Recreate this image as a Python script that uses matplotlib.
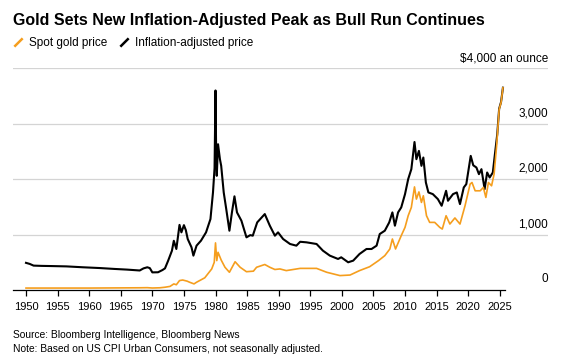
import numpy as np
import matplotlib
matplotlib.use("Agg")
import matplotlib.pyplot as plt
from matplotlib.lines import Line2D
import matplotlib.transforms as mtransforms

plt.rcParams['font.family'] = ['Liberation Sans', 'DejaVu Sans']

# Gold price, nominal and inflation-adjusted ($/oz)
real_years = [1950.0, 1950.6, 1951.2, 1952.5, 1954.0, 1956.4, 1959.0, 1961.7, 1964.0, 1966.0,
              1968.0, 1968.6, 1969.2, 1969.6, 1970.0, 1970.9, 1971.6, 1972.0, 1972.5, 1973.1,
              1973.4, 1973.8, 1974.3, 1974.6, 1975.0, 1975.3, 1975.6, 1976.2, 1976.5, 1977.0,
              1977.7, 1978.5, 1979.2, 1979.6, 1979.85, 1980.0, 1980.1, 1980.2, 1980.4, 1980.7,
              1980.9, 1981.3, 1981.7, 1982.2, 1982.6, 1983.0, 1983.4, 1984.1, 1984.9, 1985.5,
              1985.9, 1986.6, 1987.8, 1988.6, 1989.4, 1989.9, 1990.7, 1991.8, 1992.8, 1993.4,
              1994.4, 1996.0, 1997.0, 1998.1, 1999.4, 1999.9, 2001.0, 2001.8, 2002.8, 2003.9,
              2004.7, 2005.5, 2006.0, 2006.8, 2007.5, 2008.0, 2008.4, 2008.9, 2009.4, 2010.0,
              2010.5, 2011.0, 2011.5, 2011.8, 2012.2, 2012.6, 2012.9, 2013.3, 2013.7, 2014.4,
              2015.2, 2015.8, 2016.5, 2016.8, 2017.6, 2018.2, 2018.7, 2019.3, 2019.7, 2020.4,
              2020.8, 2021.3, 2021.7, 2022.1, 2022.6, 2023.0, 2023.4, 2023.9, 2024.2, 2024.6,
              2024.9, 2025.2, 2025.5]
real_price = [490, 470, 440, 435, 432, 426, 410, 396, 380, 368,
              352, 390, 410, 395, 318, 320, 360, 390, 528, 708,
              888, 740, 1175, 1040, 1170, 1080, 920, 770, 620, 800,
              890, 1040, 1280, 1760, 2200, 3600, 2500, 2060, 2630, 2360,
              2240, 1760, 1460, 1070, 1400, 1690, 1400, 1250, 950, 990,
              980, 1220, 1370, 1160, 980, 1040, 920, 830, 800, 870,
              860, 830, 710, 620, 560, 590, 500, 530, 650, 740,
              740, 800, 1010, 1070, 1220, 1400, 1160, 1400, 1490, 1730,
              2000, 2180, 2670, 2360, 2510, 2240, 2390, 1940, 1760, 1730,
              1640, 1520, 1790, 1610, 1730, 1760, 1550, 1850, 1910, 2420,
              2250, 2210, 2090, 2180, 1820, 2120, 2030, 2120, 2420, 2810,
              3270, 3390, 3650]

spot_years = [1950.0, 1960.0, 1968.0, 1969.2, 1970.0, 1971.2, 1972.0, 1972.8, 1973.4, 1973.8,
              1974.3, 1974.8, 1975.5, 1975.9, 1976.6, 1977.0, 1978.3, 1979.4, 1979.8, 1980.0,
              1980.2, 1980.4, 1980.9, 1981.5, 1982.2, 1983.1, 1983.9, 1984.9, 1986.0, 1986.5,
              1987.8, 1988.6, 1989.4, 1990.2, 1991.2, 1993.4, 1996.0, 1997.6, 1999.7, 2001.3,
              2002.8, 2004.4, 2005.8, 2006.8, 2007.6, 2008.0, 2008.5, 2009.4, 2010.0, 2010.5,
              2011.0, 2011.5, 2011.8, 2012.2, 2012.6, 2012.9, 2013.4, 2013.9, 2014.7, 2015.5,
              2015.9, 2016.5, 2017.1, 2017.9, 2018.7, 2019.5, 2020.3, 2020.6, 2021.1, 2021.9,
              2022.4, 2022.8, 2023.2, 2023.7, 2024.1, 2024.5, 2024.9, 2025.2, 2025.5]
spot_price = [35, 35, 40, 42, 36, 40, 50, 65, 110, 95,
              170, 180, 160, 140, 110, 140, 220, 380, 500, 850,
              530, 680, 540, 410, 320, 510, 410, 330, 340, 410,
              460, 410, 370, 380, 350, 390, 390, 320, 260, 270,
              350, 420, 530, 620, 740, 920, 740, 980, 1130, 1340,
              1490, 1860, 1640, 1770, 1580, 1700, 1340, 1220, 1220, 1130,
              1100, 1340, 1190, 1300, 1190, 1520, 1910, 1940, 1790, 1790,
              1850, 1670, 1940, 1880, 2090, 2600, 3260, 3380, 3650]

year_ticks = list(range(1950, 2030, 5))
y_ticks = [0, 1000, 2000, 3000]
y_labels = ['0', '1,000', '2,000', '3,000']

ORANGE = '#F59E1E'

fig = plt.figure(figsize=(5.68, 3.6), dpi=100)
ax = fig.add_axes([13 / 568, 70 / 360, 535 / 568, 221.7 / 360])
ax.set_xlim(1950 - 13 / 6.317, 1950 + 522 / 6.317)
ax.set_ylim(0, 4000)

for v in [1000, 2000, 3000, 4000]:
    ax.axhline(v, color='#d4d4d4', lw=0.9, zorder=0)
# zero line only runs under the data
ax.plot([ax.get_xlim()[0], 2025.8], [0, 0], color='black', lw=0.9, zorder=1, clip_on=False)

ax.plot(real_years, real_price, color='black', lw=1.5, zorder=3)
ax.plot(spot_years, spot_price, color=ORANGE, lw=1.2, zorder=4)

for s in ax.spines.values():
    s.set_visible(False)
ax.set_yticks([])
ax.set_xticks(year_ticks)
ax.set_xticklabels([str(y) for y in year_ticks], fontsize=8)
ax.tick_params(axis='x', length=4, width=0.9, color='black', pad=5)

# y labels sit above their gridlines at the right edge
trans = mtransforms.blended_transform_factory(ax.transAxes, ax.transData)
for v, lab in zip(y_ticks, y_labels):
    ax.text(1.0, v + 190, lab, transform=trans, ha='right', va='center', fontsize=8.5)
ax.text(1.0, 4000 + 170, '$4,000 an ounce', transform=trans, ha='right', va='center',
        fontsize=8.5, clip_on=False)

fig.text(13 / 568, 1 - 20 / 360, 'Gold Sets New Inflation-Adjusted Peak as Bull Run Continues',
         fontsize=11.5, fontweight='bold', va='center', ha='left')

slash = [(-1, -1), (1, 1)]
handles = [Line2D([], [], color=ORANGE, marker=slash, linestyle='none', markersize=6,
                  markeredgewidth=1.8),
           Line2D([], [], color='black', marker=slash, linestyle='none', markersize=6,
                  markeredgewidth=1.8)]
fig.legend(handles, ['Spot gold price', 'Inflation-adjusted price'], loc='center left',
           bbox_to_anchor=(12 / 568, 1 - 43 / 360), ncol=2, frameon=False, fontsize=8.5,
           handlelength=1.0, handletextpad=0.4, columnspacing=1.0, borderpad=0,
           borderaxespad=0)

fig.text(13 / 568, 1 - 335 / 360, 'Source: Bloomberg Intelligence, Bloomberg News',
         fontsize=7.4, va='center')
fig.text(13 / 568, 1 - 349 / 360, 'Note: Based on US CPI Urban Consumers, not seasonally adjusted.',
         fontsize=7.4, va='center')

fig.savefig('out.png', dpi=100)
